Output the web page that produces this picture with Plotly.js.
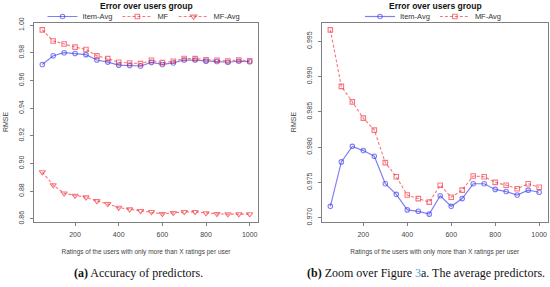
<!DOCTYPE html>
<html><head><meta charset="utf-8">
<script src="https://cdn.plot.ly/plotly-3.0.1.min.js"></script>
<style>html,body{margin:0;padding:0;background:#fff;} #chart{width:550px;height:287px;}</style>
</head><body><div id="chart"></div>
<script>
var xValues = [50,100,150,200,250,300,350,400,450,500,550,600,650,700,750,800,850,900,950,1000];
var itemAvg = [0.9716,0.9779,0.9801,0.9795,0.9787,0.9748,0.9733,0.9711,0.9709,0.9705,0.9731,0.9716,0.9727,0.9748,0.9748,0.9740,0.9737,0.9732,0.9739,0.9736];
var mfSquares = [0.9966,0.9886,0.9864,0.9841,0.9824,0.9778,0.9758,0.9732,0.9727,0.9722,0.9746,0.9729,0.9739,0.9759,0.9758,0.9750,0.9746,0.9741,0.9748,0.9743];
var mfTriangles = [0.8938,0.8844,0.8784,0.8768,0.8756,0.8729,0.8708,0.8681,0.8669,0.8657,0.8650,0.8636,0.8643,0.8650,0.8650,0.8641,0.8636,0.8634,0.8634,0.8634];
var namesLeft = ['Item-Avg','MF','MF-Avg'];
var namesRight = ['Item-Avg','MF-Avg'];
var chartTitle = 'Error over users group';
var xTitle = 'Ratings of the users with only more than X ratings per user';
var yTitle = 'RMSE';
var captionA = '<b>(a)</b> Accuracy of predictors.';
var captionB = '<b>(b)</b> Zoom over Figure <span style="color:#3a9fd6">3</span>a. The average predictors.';

var W = 550, H = 287;
var BLUE = 'rgba(50,50,235,0.62)';
var RED = 'rgba(240,30,40,0.6)';
var SANS = 'Liberation Sans, Arial, sans-serif';
var SERIF = 'Liberation Serif, Times New Roman, serif';

function padRange(arrs){
  var all = [].concat.apply([], arrs);
  var mn = Math.min.apply(null, all), mx = Math.max.apply(null, all);
  var s = (mx - mn) * 0.04;
  return [mn - s, mx + s];
}
var xr = padRange([xValues]);
var yrLeft = padRange([itemAvg, mfSquares, mfTriangles]);
var yrRight = padRange([itemAvg, mfSquares]);

function blueTrace(xa, ya, name, leg){
  return {x: xValues, y: itemAvg, xaxis: xa, yaxis: ya, name: name, legend: leg, type: 'scatter', mode: 'lines+markers',
    line: {color: BLUE, width: 1.2}, marker: {symbol: 'circle-open', size: 4.5, color: BLUE, line: {width: 1.1, color: BLUE}}};
}
function squareTrace(xa, ya, name, leg){
  return {x: xValues, y: mfSquares, xaxis: xa, yaxis: ya, name: name, legend: leg, type: 'scatter', mode: 'lines+markers',
    line: {color: RED, width: 1.1, dash: '3px,2px'}, marker: {symbol: 'square-open', size: 4.5, color: RED, line: {width: 1.1, color: RED}}};
}
var traces = [
  blueTrace('x', 'y', namesLeft[0], 'legend'),
  squareTrace('x', 'y', namesLeft[1], 'legend'),
  {x: xValues, y: mfTriangles, xaxis: 'x', yaxis: 'y', name: namesLeft[2], legend: 'legend', type: 'scatter', mode: 'lines+markers',
    line: {color: RED, width: 1.1, dash: '3px,2px'}, marker: {symbol: 'triangle-down-open', size: 5.5, color: RED, line: {width: 1.1, color: RED}}},
  blueTrace('x2', 'y2', namesRight[0], 'legend2'),
  squareTrace('x2', 'y2', namesRight[1], 'legend2')
];

var yDom = [1 - 221.5 / H, 1 - 22.5 / H];
function xAxis(dom, anchor){
  return {domain: dom, anchor: anchor, range: xr, tick0: 0, dtick: 200, showgrid: false, zeroline: false,
    showline: true, mirror: true, linecolor: '#808080', linewidth: 1, ticks: 'outside', ticklen: 3, tickcolor: '#808080',
    tickfont: {family: SANS, size: 7, color: '#444'}, ticklabelstandoff: 3,
    title: {text: xTitle, font: {family: SANS, size: 6.5, color: '#444'}, standoff: 12}};
}
function yAxis(range, dtick, fmt, anchor){
  return {domain: yDom, anchor: anchor, range: range, dtick: dtick, tick0: 0, tickformat: fmt, showgrid: false, zeroline: false,
    showline: true, mirror: true, linecolor: '#808080', linewidth: 1, ticks: 'outside', ticklen: 3, tickcolor: '#808080',
    tickangle: -90, tickfont: {family: SANS, size: 7, color: '#444'}, ticklabelstandoff: 3,
    title: {text: yTitle, font: {family: SANS, size: 7, color: '#444'}, standoff: 8}};
}

var layout = {
  width: W, height: H, margin: {l: 0, r: 0, t: 0, b: 0}, paper_bgcolor: '#fff', plot_bgcolor: '#fff',
  showlegend: true,
  xaxis: xAxis([34 / W, 258 / W], 'y'),
  yaxis: yAxis(yrLeft, 0.02, '.2f', 'x'),
  xaxis2: xAxis([322 / W, 547.5 / W], 'y2'),
  yaxis2: yAxis(yrRight, 0.005, '.3f', 'x2'),
  legend: {orientation: 'h', x: 144 / W, xanchor: 'center', y: 1 - 16.5 / H, yanchor: 'middle',
    font: {family: SANS, size: 7.5, color: '#333'}, bgcolor: 'rgba(0,0,0,0)', itemwidth: 30, tracegroupgap: 0},
  legend2: {orientation: 'h', x: 433 / W, xanchor: 'center', y: 1 - 16.5 / H, yanchor: 'middle',
    font: {family: SANS, size: 7.5, color: '#333'}, bgcolor: 'rgba(0,0,0,0)', itemwidth: 30},
  annotations: [
    {text: '<b>' + chartTitle + '</b>', xref: 'paper', yref: 'paper', x: 146 / W, y: 1 - 6 / H, xanchor: 'center', yanchor: 'middle', showarrow: false,
      font: {family: SANS, size: 8.5, color: '#111'}},
    {text: '<b>' + chartTitle + '</b>', xref: 'paper', yref: 'paper', x: 435 / W, y: 1 - 6 / H, xanchor: 'center', yanchor: 'middle', showarrow: false,
      font: {family: SANS, size: 8.5, color: '#111'}},
    {text: captionA, xref: 'paper', yref: 'paper', x: 138 / W, y: 1 - 273 / H, xanchor: 'center', yanchor: 'middle', showarrow: false,
      font: {family: SERIF, size: 12, color: '#111'}},
    {text: captionB, xref: 'paper', yref: 'paper', x: 426 / W, y: 1 - 273 / H, xanchor: 'center', yanchor: 'middle', showarrow: false,
      font: {family: SERIF, size: 12, color: '#111'}}
  ]
};
Plotly.newPlot('chart', traces, layout, {displayModeBar: false, staticPlot: true});
</script></body></html>
